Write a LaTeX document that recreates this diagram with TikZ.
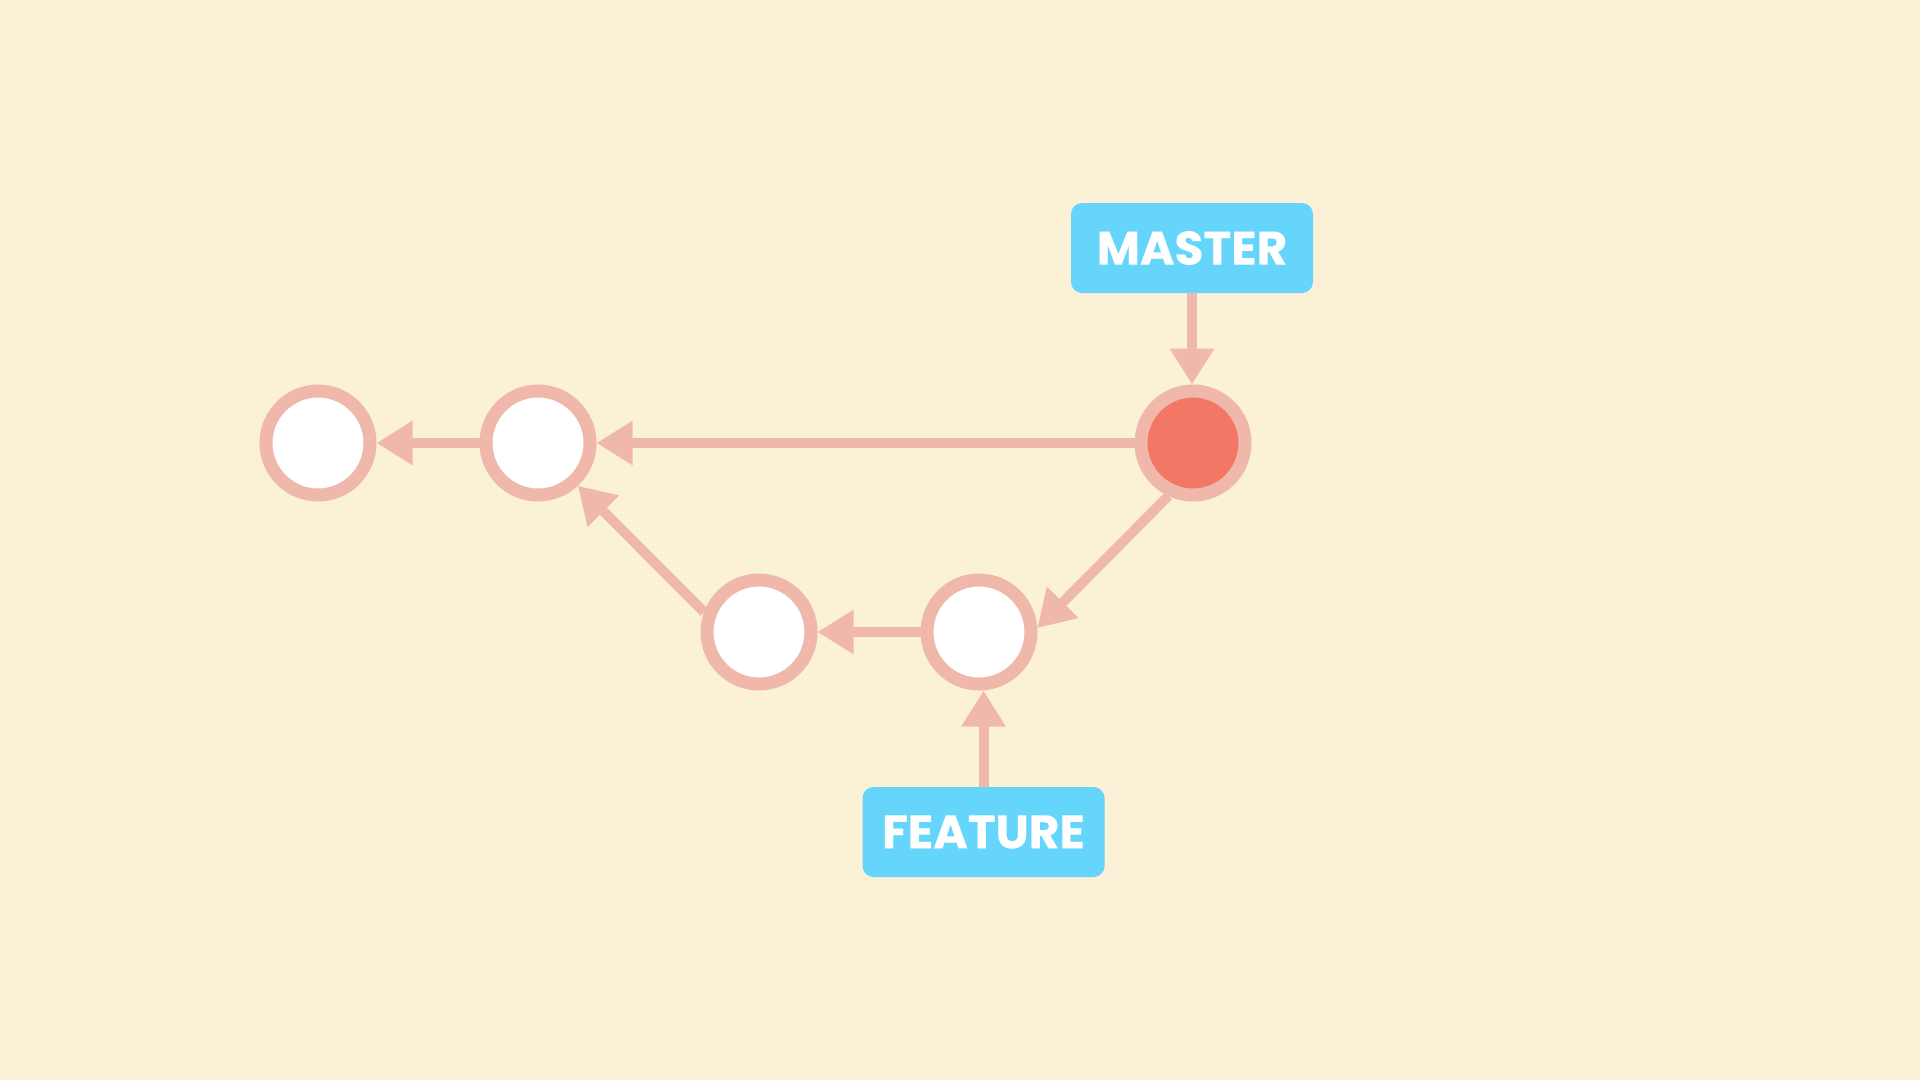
\documentclass[tikz,border=0pt]{standalone}
\usepackage{fontspec}
\setmainfont{Poppins}
\newfontfamily\labelfont{Poppins}[UprightFont=*-Bold, FakeBold=0.25]
\usetikzlibrary{arrows.meta}
\definecolor{paper}{RGB}{251,241,214}
\definecolor{ring}{RGB}{239,184,170}
\definecolor{headfill}{RGB}{242,120,101}
\definecolor{labelblue}{RGB}{102,213,251}
\tikzset{
  commit/.style={circle, draw=ring, line width=13pt, fill=white,
                 minimum size=104pt, inner sep=0pt},
  head/.style={commit, fill=headfill},
  branch/.style={rectangle, rounded corners=11pt, fill=labelblue, text=white,
                 minimum width=242pt, minimum height=90pt, inner sep=0pt,
                 font=\labelfont\fontsize{47}{47}\selectfont},
  link/.style={draw=ring, line width=10pt,
               -{Triangle[length=36pt,width=42pt]}},
}
\begin{document}
\begin{tikzpicture}[x=1pt,y=-1pt]
  \fill[paper] (0,0) rectangle (1920,1080);
  \useasboundingbox (0,0) rectangle (1920,1080);

  % commits
  \node[commit] (c1) at (318,443) {};
  \node[commit] (c2) at (538,443) {};
  \node[head]   (c3) at (1193,443) {};
  \node[commit] (c4) at (759,632) {};
  \node[commit] (c5) at (979,632) {};

  % branch labels
  \node[branch] (master)  at (1192,248) {MASTER};
  \node[branch] (feature) at (983.5,832) {FEATURE};

  % parent links
  \draw[link] (c2.west) -- (c1.east);
  \draw[link] (c3.west) -- (c2.east);
  \draw[link] (c3.245.6) -- (c5.4.8);
  \draw[link] (c5.west) -- (c4.east);
  \draw[link] (c4.160) -- (c2.-47);

  % branch pointers
  \draw[link] (master.south) -- (master.south |- c3.north);
  \draw[link] (feature.north) -- (feature.north |- c5.south);
\end{tikzpicture}
\end{document}
